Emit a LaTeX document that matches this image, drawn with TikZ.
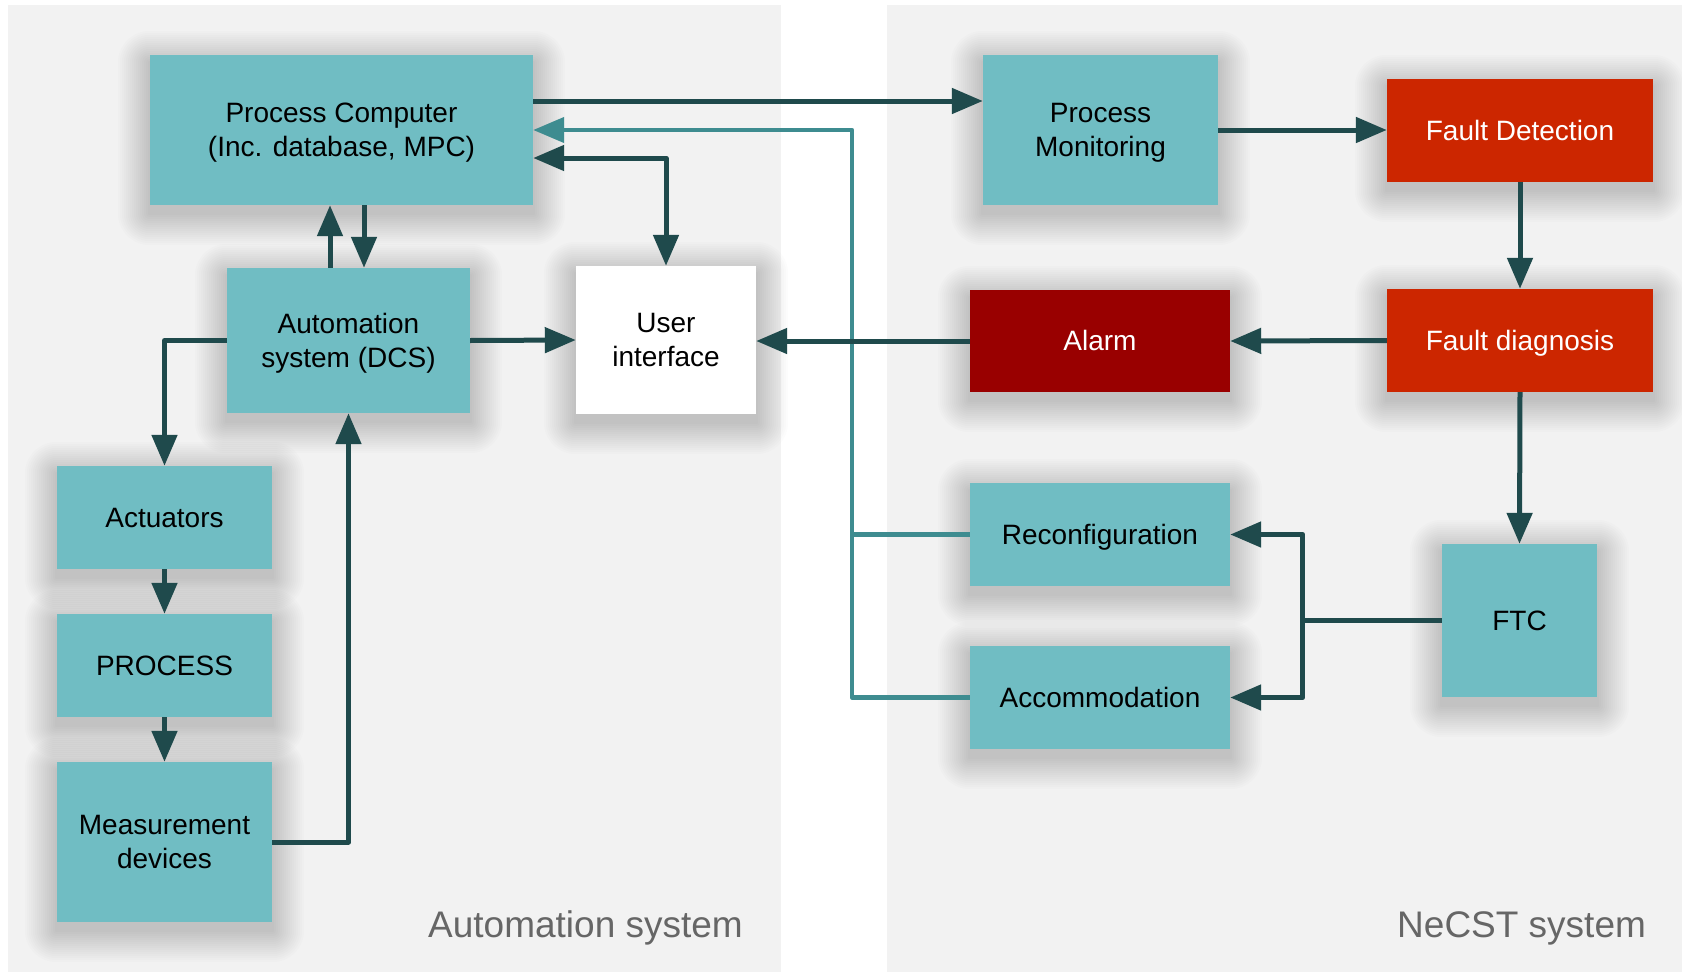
\documentclass[tikz,border=0pt]{standalone}
\usepackage{fontspec}
\setmainfont{Liberation Sans}
\usetikzlibrary{arrows.meta,calc}

\definecolor{boxteal}{HTML}{70BDC3}
\definecolor{linedark}{HTML}{1F4A4C}
\definecolor{lineteal}{HTML}{3E8C90}
\definecolor{faultred}{HTML}{CC2600}
\definecolor{alarmred}{HTML}{990000}
\definecolor{panelgray}{HTML}{F2F2F2}
\definecolor{labelgray}{HTML}{666666}

\pgfdeclarelayer{background}
\pgfsetlayers{background,main}

% fixed line box so every label sits at the same height in its box
\newcommand\lbox{\rule[-6pt]{0pt}{31pt}}

\tikzset{
  box/.style={fill=boxteal, draw=none, inner sep=0pt, align=center,
    font=\fontsize{28}{34}\selectfont, text=black},
  redbox/.style={box, fill=faultred, text=white},
  alarmbox/.style={box, fill=alarmred, text=white},
  whitebox/.style={box, fill=white},
  tipd/.tip={Triangle[length=31pt, width=25pt]},
  flow/.style={draw=linedark, line width=5pt, line join=round, -tipd},
  reply/.style={draw=lineteal, line width=4.3pt, line join=round, -tipd},
  replyplain/.style={draw=lineteal, line width=4.3pt, line join=round},
  region/.style={anchor=base west, inner sep=0pt, text=labelgray,
    font=\fontsize{37}{44}\selectfont}
}

\begin{document}
\begin{tikzpicture}[x=1pt, y=-1pt]
\useasboundingbox (0,0) rectangle (1682,972);

% automation side
\node[box, minimum width=383pt, minimum height=150pt] (pc) at (341.5,130)
  {\lbox Process Computer\\\lbox(Inc. database, MPC)};
\node[box, minimum width=243pt, minimum height=145pt] (das) at (348.5,340.5)
  {\lbox Automation\\\lbox system (DCS)};
\node[whitebox, minimum width=180pt, minimum height=148pt] (ui) at (666,340)
  {\lbox User\\\lbox interface};
\node[box, minimum width=215pt, minimum height=103pt] (act) at (164.5,517.5) {\lbox Actuators};
\node[box, minimum width=215pt, minimum height=103pt] (proc) at (164.5,665.5) {\lbox PROCESS};
\node[box, minimum width=215pt, minimum height=160pt] (meas) at (164.5,842)
  {\lbox Measurement\\\lbox devices};

% NeCST side
\node[box, minimum width=235pt, minimum height=150pt] (pm) at (1100.5,130)
  {\lbox Process\\\lbox Monitoring};
\node[redbox, minimum width=266pt, minimum height=103pt] (fd) at (1520,130.5) {\lbox Fault Detection};
\node[redbox, minimum width=266pt, minimum height=103pt] (fdiag) at (1520,340.5) {\lbox Fault diagnosis};
\node[alarmbox, minimum width=260pt, minimum height=102pt] (alarm) at (1100,341) {\lbox Alarm};
\node[box, minimum width=260pt, minimum height=103pt] (rec) at (1100,534.5) {\lbox Reconfiguration};
\node[box, minimum width=260pt, minimum height=103pt] (acc) at (1100,697.5) {\lbox Accommodation};
\node[box, minimum width=155pt, minimum height=153pt] (ftc) at (1519.5,620.5) {\lbox FTC};

% region labels
\node[region] (lblA) at (428,937) {Automation system};
\node[region] (lblN) at (1397,937) {NeCST system};

% panels and soft drop shadows behind everything
\begin{pgfonlayer}{background}
  \fill[panelgray] (8,5) rectangle (781,972);
  \fill[panelgray] (887,5) rectangle (1682,972);
  \foreach \n in {pc,das,ui,act,proc,meas,pm,fd,fdiag,alarm,rec,acc,ftc}{
    \foreach \r in {2,4,...,32}{
      \fill[black, fill opacity=0.013, rounded corners=\r pt]
        ($(\n.north west)+(-\r,-\r+8)$) rectangle ($(\n.south east)+(\r,\r+8)$);
    }
  }
\end{pgfonlayer}

% helper points
\coordinate (pcout) at ($(pc.east)+(0,-29)$);
\coordinate (pcui) at ($(pc.east)+(0,28)$);
\coordinate (dasup) at ($(das.north)+(-18.5,0)$);
\coordinate (dasdn) at ($(das.north)+(15.5,0)$);
\coordinate (tbus) at (852,0);
\coordinate (split) at ($(ftc.west)+(-139,0)$);

% feedback from reconfiguration / accommodation
\draw[replyplain] (rec.west) -- (tbus |- rec.west);
\draw[reply] (acc.west) -| (tbus |- pc.east) -- (pc.east);

% automation connectors
\draw[flow] (pcout) -- (pcout -| pm.west);
\draw[flow, tipd-tipd] (pcui) -| (ui.north);
\draw[flow] (dasup) -- (dasup |- pc.south);
\draw[flow] (dasdn |- pc.south) -- (dasdn);
\draw[flow] (das.east) -- (ui.west);
\draw[flow] (das.west) -| (act.north);
\draw[flow] (act.south) -- (proc.north);
\draw[flow] (proc.south) -- (meas.north);
\draw[flow] (meas.east) -| (das.south);

% NeCST connectors
\draw[flow] (pm.east) -- (pm.east -| fd.west);
\draw[flow] (fd.south) -- (fdiag.north);
\draw[flow] (fdiag.west) -- (alarm.east);
\draw[flow] (alarm.west) -- (alarm.west -| ui.east);
\draw[flow] (fdiag.south) -- (ftc.north);
\draw[flow] (ftc.west) -- (split) |- (rec.east);
\draw[flow] (split) |- (acc.east);
\end{tikzpicture}
\end{document}
